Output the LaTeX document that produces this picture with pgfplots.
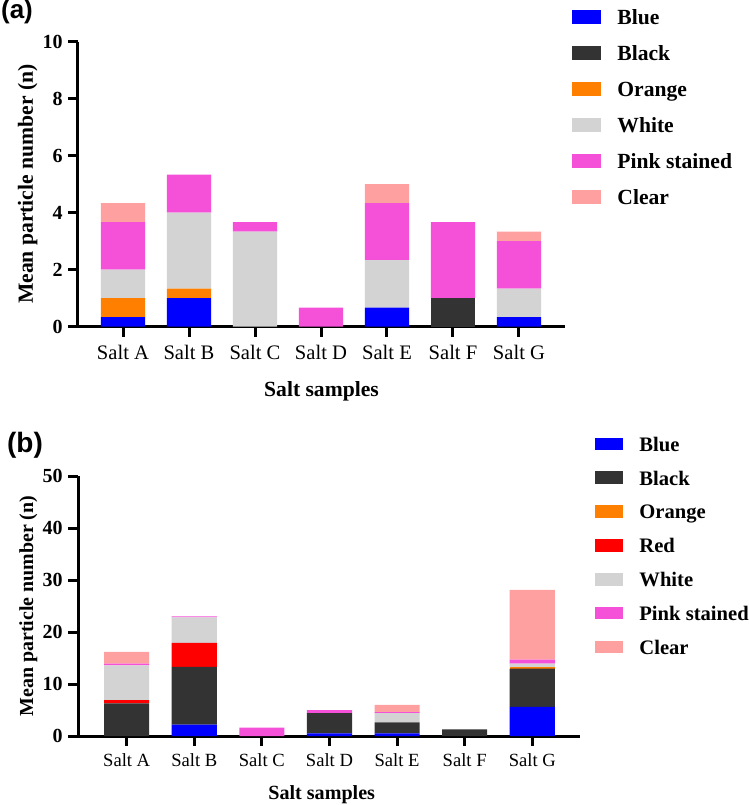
\documentclass[border=0pt]{standalone}
\usepackage{pgfplots}
\pgfplotsset{compat=1.18}
\usepackage{fontspec}
\setmainfont{Liberation Serif}
\newfontfamily\labfont{Liberation Sans}

\definecolor{cBlue}{HTML}{0000FF}
\definecolor{cBlack}{HTML}{333333}
\definecolor{cOrange}{HTML}{FF7F00}
\definecolor{cRed}{HTML}{FF0000}
\definecolor{cWhite}{HTML}{D3D3D3}
\definecolor{cPink}{HTML}{F550D8}
\definecolor{cClear}{HTML}{FFA0A0}

\pgfplotsset{
  mystyle/.style={
    scale only axis,
    axis x line*=bottom, axis y line*=left,
    axis line style={line width=1.5pt,-},
    tick style={line width=1.5pt, black},
    major tick length=5pt,
    tick align=outside,
    ybar stacked,
    enlargelimits=false,
    ymin=0,
    xtick={0,...,6},
    xticklabels={Salt A,Salt B,Salt C,Salt D,Salt E,Salt F,Salt G},
    xticklabel style={font=\fontsize{10.3}{12}\selectfont, anchor=base, yshift=-11.3pt},
    yticklabel style={font=\fontsize{10}{12}\selectfont\bfseries, anchor=east, inner sep=0pt, xshift=-2.5pt},
    /pgf/number format/assume math mode=true,
    xlabel={Salt samples}, ylabel={Mean particle number (n)},
    label style={font=\fontsize{10.8}{13}\selectfont\bfseries},
    legend cell align=left,
    legend style={draw=none, fill=none, inner sep=0pt, anchor=north west,
       nodes={inner sep=0pt, text height=8pt, text depth=0.6pt, font=\fontsize{10.8}{13}\selectfont\bfseries},
       /tikz/every odd column/.append style={column sep=8.15pt}},
  },
}

\begin{document}
\begin{tikzpicture}
\node[font=\labfont\bfseries\fontsize{13}{15}\selectfont] at (8.5pt,-6pt) {(a)};
\node[font=\labfont\bfseries\fontsize{14}{16}\selectfont] at (12.5pt,-222.5pt) {(b)};

% ---------- panel (a)
\begin{axis}[mystyle,
  at={(39pt,-163.35pt)}, anchor=south west,
  width=243.5pt, height=142.5pt,
  xmin=-0.682, xmax=6.697, ymax=10, ytick={0,2,...,10},
  bar width=0.667,
  xlabel style={at={(axis description cs:0.5,-0.2432)}, anchor=base},
  ylabel style={at={(axis description cs:-0.0924,0.5)}, anchor=base},
  legend style={at={(axis description cs:1.0138,1.1179)}, row sep=9.4pt},
  every axis plot/.append style={draw=none,
    legend image code/.code={\fill[##1] (0pt,-3.5pt) rectangle (14.5pt,3.5pt);}},
]
\addplot[fill=cBlue] coordinates {(0,0.333)(1,1)(2,0)(3,0)(4,0.667)(5,0)(6,0.333)};
\addlegendentry{Blue}
\addplot[fill=cBlack] coordinates {(0,0)(1,0)(2,0)(3,0)(4,0)(5,1)(6,0)};
\addlegendentry{Black}
\addplot[fill=cOrange] coordinates {(0,0.667)(1,0.333)(2,0)(3,0)(4,0)(5,0)(6,0)};
\addlegendentry{Orange}
\addplot[fill=cWhite] coordinates {(0,1)(1,2.667)(2,3.333)(3,0)(4,1.667)(5,0)(6,1)};
\addlegendentry{White}
\addplot[fill=cPink] coordinates {(0,1.667)(1,1.333)(2,0.333)(3,0.667)(4,2)(5,2.667)(6,1.667)};
\addlegendentry{Pink stained}
\addplot[fill=cClear] coordinates {(0,0.667)(1,0)(2,0)(3,0)(4,0.667)(5,0)(6,0.333)};
\addlegendentry{Clear}
\end{axis}

% ---------- panel (b)
\begin{axis}[mystyle,
  at={(39pt,-368pt)}, anchor=south west,
  width=251pt, height=130pt,
  xmin=-0.72, xmax=6.706, ymax=50, ytick={0,10,...,50},
  bar width=0.667,
  xticklabel style={font=\fontsize{9.3}{11}\selectfont, yshift=1pt},
  xlabel style={at={(axis description cs:0.4855,-0.2423)}, anchor=base, font=\fontsize{10.05}{12}\selectfont\bfseries},
  ylabel style={at={(axis description cs:-0.0896,0.5)}, anchor=base, font=\fontsize{9.95}{12}\selectfont\bfseries},
  legend style={at={(axis description cs:1.0299,1.1588)}, row sep=8.35pt,
    nodes={font=\fontsize{10.3}{12}\selectfont\bfseries}},
  every axis plot/.append style={draw=none,
    legend image code/.code={\fill[##1] (0pt,-3.1pt) rectangle (13.85pt,3.1pt);}},
]
\addplot[fill=cBlue] coordinates {(0,0)(1,2.2)(2,0)(3,0.5)(4,0.5)(5,0)(6,5.6)};
\addlegendentry{Blue}
\addplot[fill=cBlack] coordinates {(0,6.3)(1,11.1)(2,0)(3,3.9)(4,2.1)(5,1.3)(6,7.35)};
\addlegendentry{Black}
\addplot[fill=cOrange] coordinates {(0,0)(1,0)(2,0)(3,0)(4,0)(5,0)(6,0.35)};
\addlegendentry{Orange}
\addplot[fill=cRed] coordinates {(0,0.6)(1,4.6)(2,0)(3,0)(4,0)(5,0)(6,0)};
\addlegendentry{Red}
\addplot[fill=cWhite] coordinates {(0,6.7)(1,4.9)(2,0)(3,0)(4,1.8)(5,0)(6,0.6)};
\addlegendentry{White}
\addplot[fill=cPink] coordinates {(0,0.3)(1,0.2)(2,1.6)(3,0.6)(4,0.2)(5,0)(6,0.8)};
\addlegendentry{Pink stained}
\addplot[fill=cClear] coordinates {(0,2.3)(1,0)(2,0)(3,0)(4,1.4)(5,0)(6,13.4)};
\addlegendentry{Clear}
\end{axis}

\pgfresetboundingbox
\path[use as bounding box] (0,0) rectangle (374.5pt,-402.5pt);
\end{tikzpicture}
\end{document}
